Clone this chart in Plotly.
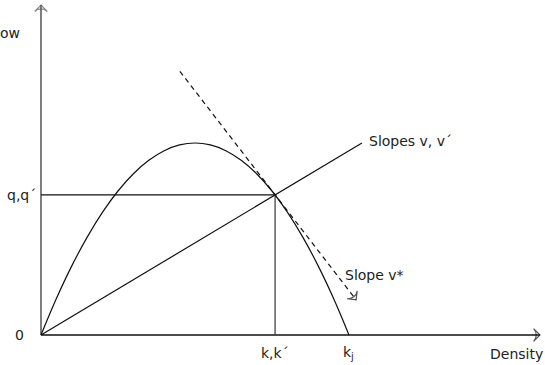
import plotly.graph_objects as go

# Fundamental diagram (flow vs density)
density = [0, 5, 10, 15, 20, 25, 30, 35, 40, 45, 50, 55, 60, 65, 70, 75, 80, 85, 90, 95, 100]
flow = [0, 11.4, 21.6, 30.6, 38.4, 45.0, 50.4, 54.6, 57.6, 59.4, 60.0, 59.4, 57.6, 54.6, 50.4, 45.0, 38.4, 30.6, 21.6, 11.4, 0]

k_op = 76.0      # operating density k, k'
q_op = 43.8      # operating flow q, q'
k_jam = 100.0    # jam density kj

# slope line from origin (v, v') and tangent line (v*)
ray_x = [0, 104.2]
ray_y = [0, 60.0]
tan_x = [45.1, 102.3]
tan_y = [82.4, 11.0]

axis_x_end = 162.0
axis_y_end = 103.1

INK = "#111111"
AXC = "#555555"
FONT = dict(family="DejaVu Sans, Liberation Sans, sans-serif", size=14, color="#222222")

fig = go.Figure()

# axes with arrow heads
fig.add_trace(go.Scatter(x=[0, 0], y=[0, axis_y_end], mode="lines+markers",
                         line=dict(color=AXC, width=1.5),
                         marker=dict(symbol="arrow-wide-open", size=[0, 9], angleref="previous",
                                     color=AXC, line=dict(color=AXC, width=1.2)),
                         hoverinfo="skip"))
fig.add_trace(go.Scatter(x=[0, axis_x_end], y=[0, 0], mode="lines+markers",
                         line=dict(color=INK, width=1.5),
                         marker=dict(symbol="arrow-wide-open", size=[0, 9], angleref="previous",
                                     color=INK, line=dict(color=INK, width=1.2)),
                         hoverinfo="skip"))

# parabola
fig.add_trace(go.Scatter(x=density, y=flow, mode="lines", line=dict(color=INK, width=1.2, shape="spline"),
                         hoverinfo="skip"))

# ray through the origin
fig.add_trace(go.Scatter(x=ray_x, y=ray_y, mode="lines", line=dict(color=INK, width=1.2), hoverinfo="skip"))

# guide lines to q and k
fig.add_trace(go.Scatter(x=[0, k_op], y=[q_op, q_op], mode="lines", line=dict(color=INK, width=1.2),
                         hoverinfo="skip"))
fig.add_trace(go.Scatter(x=[k_op, k_op], y=[q_op, 0], mode="lines", line=dict(color="#333333", width=1.2),
                         hoverinfo="skip"))

# tangent dashed line with arrow
fig.add_trace(go.Scatter(x=tan_x, y=tan_y, mode="lines+markers",
                         line=dict(color=INK, width=1.2, dash="5px,4px"),
                         marker=dict(symbol="arrow-wide-open", size=[0, 9], angleref="previous",
                                     color=INK, line=dict(color=INK, width=1.2)),
                         hoverinfo="skip"))

ann = [
    dict(x=-1.0, y=q_op, text="q,q´", xanchor="right", yanchor="middle"),
    dict(x=-5.0, y=0, text="0", xanchor="right", yanchor="middle"),
    dict(x=k_op, y=-5.5, text="k,k´", xanchor="center", yanchor="middle"),
    dict(x=k_jam, y=-5.5, text="k<sub>j</sub>", xanchor="center", yanchor="middle"),
    dict(x=154.5, y=-6.0, text="Density", xanchor="center", yanchor="middle"),
    dict(x=106.0, y=60.6, text="Slopes v, v´", xanchor="left", yanchor="middle"),
    dict(x=98.0, y=18.8, text="Slope v*", xanchor="left", yanchor="middle"),
    dict(x=-6.1, y=94.4, text="Flow", xanchor="right", yanchor="middle"),
]
for a in ann:
    a.update(showarrow=False, font=FONT, xref="x", yref="y")

fig.update_layout(
    width=545, height=365,
    margin=dict(l=0, r=0, t=0, b=0),
    paper_bgcolor="white", plot_bgcolor="white",
    showlegend=False,
    xaxis=dict(range=[-13.31, 163.64], visible=False, fixedrange=True),
    yaxis=dict(range=[-9.375, 104.69], visible=False, fixedrange=True),
    annotations=ann,
)

fig.write_html("out.html", config={"displayModeBar": False},
               post_script="document.body.style.margin='0px';document.body.style.overflow='hidden';")
